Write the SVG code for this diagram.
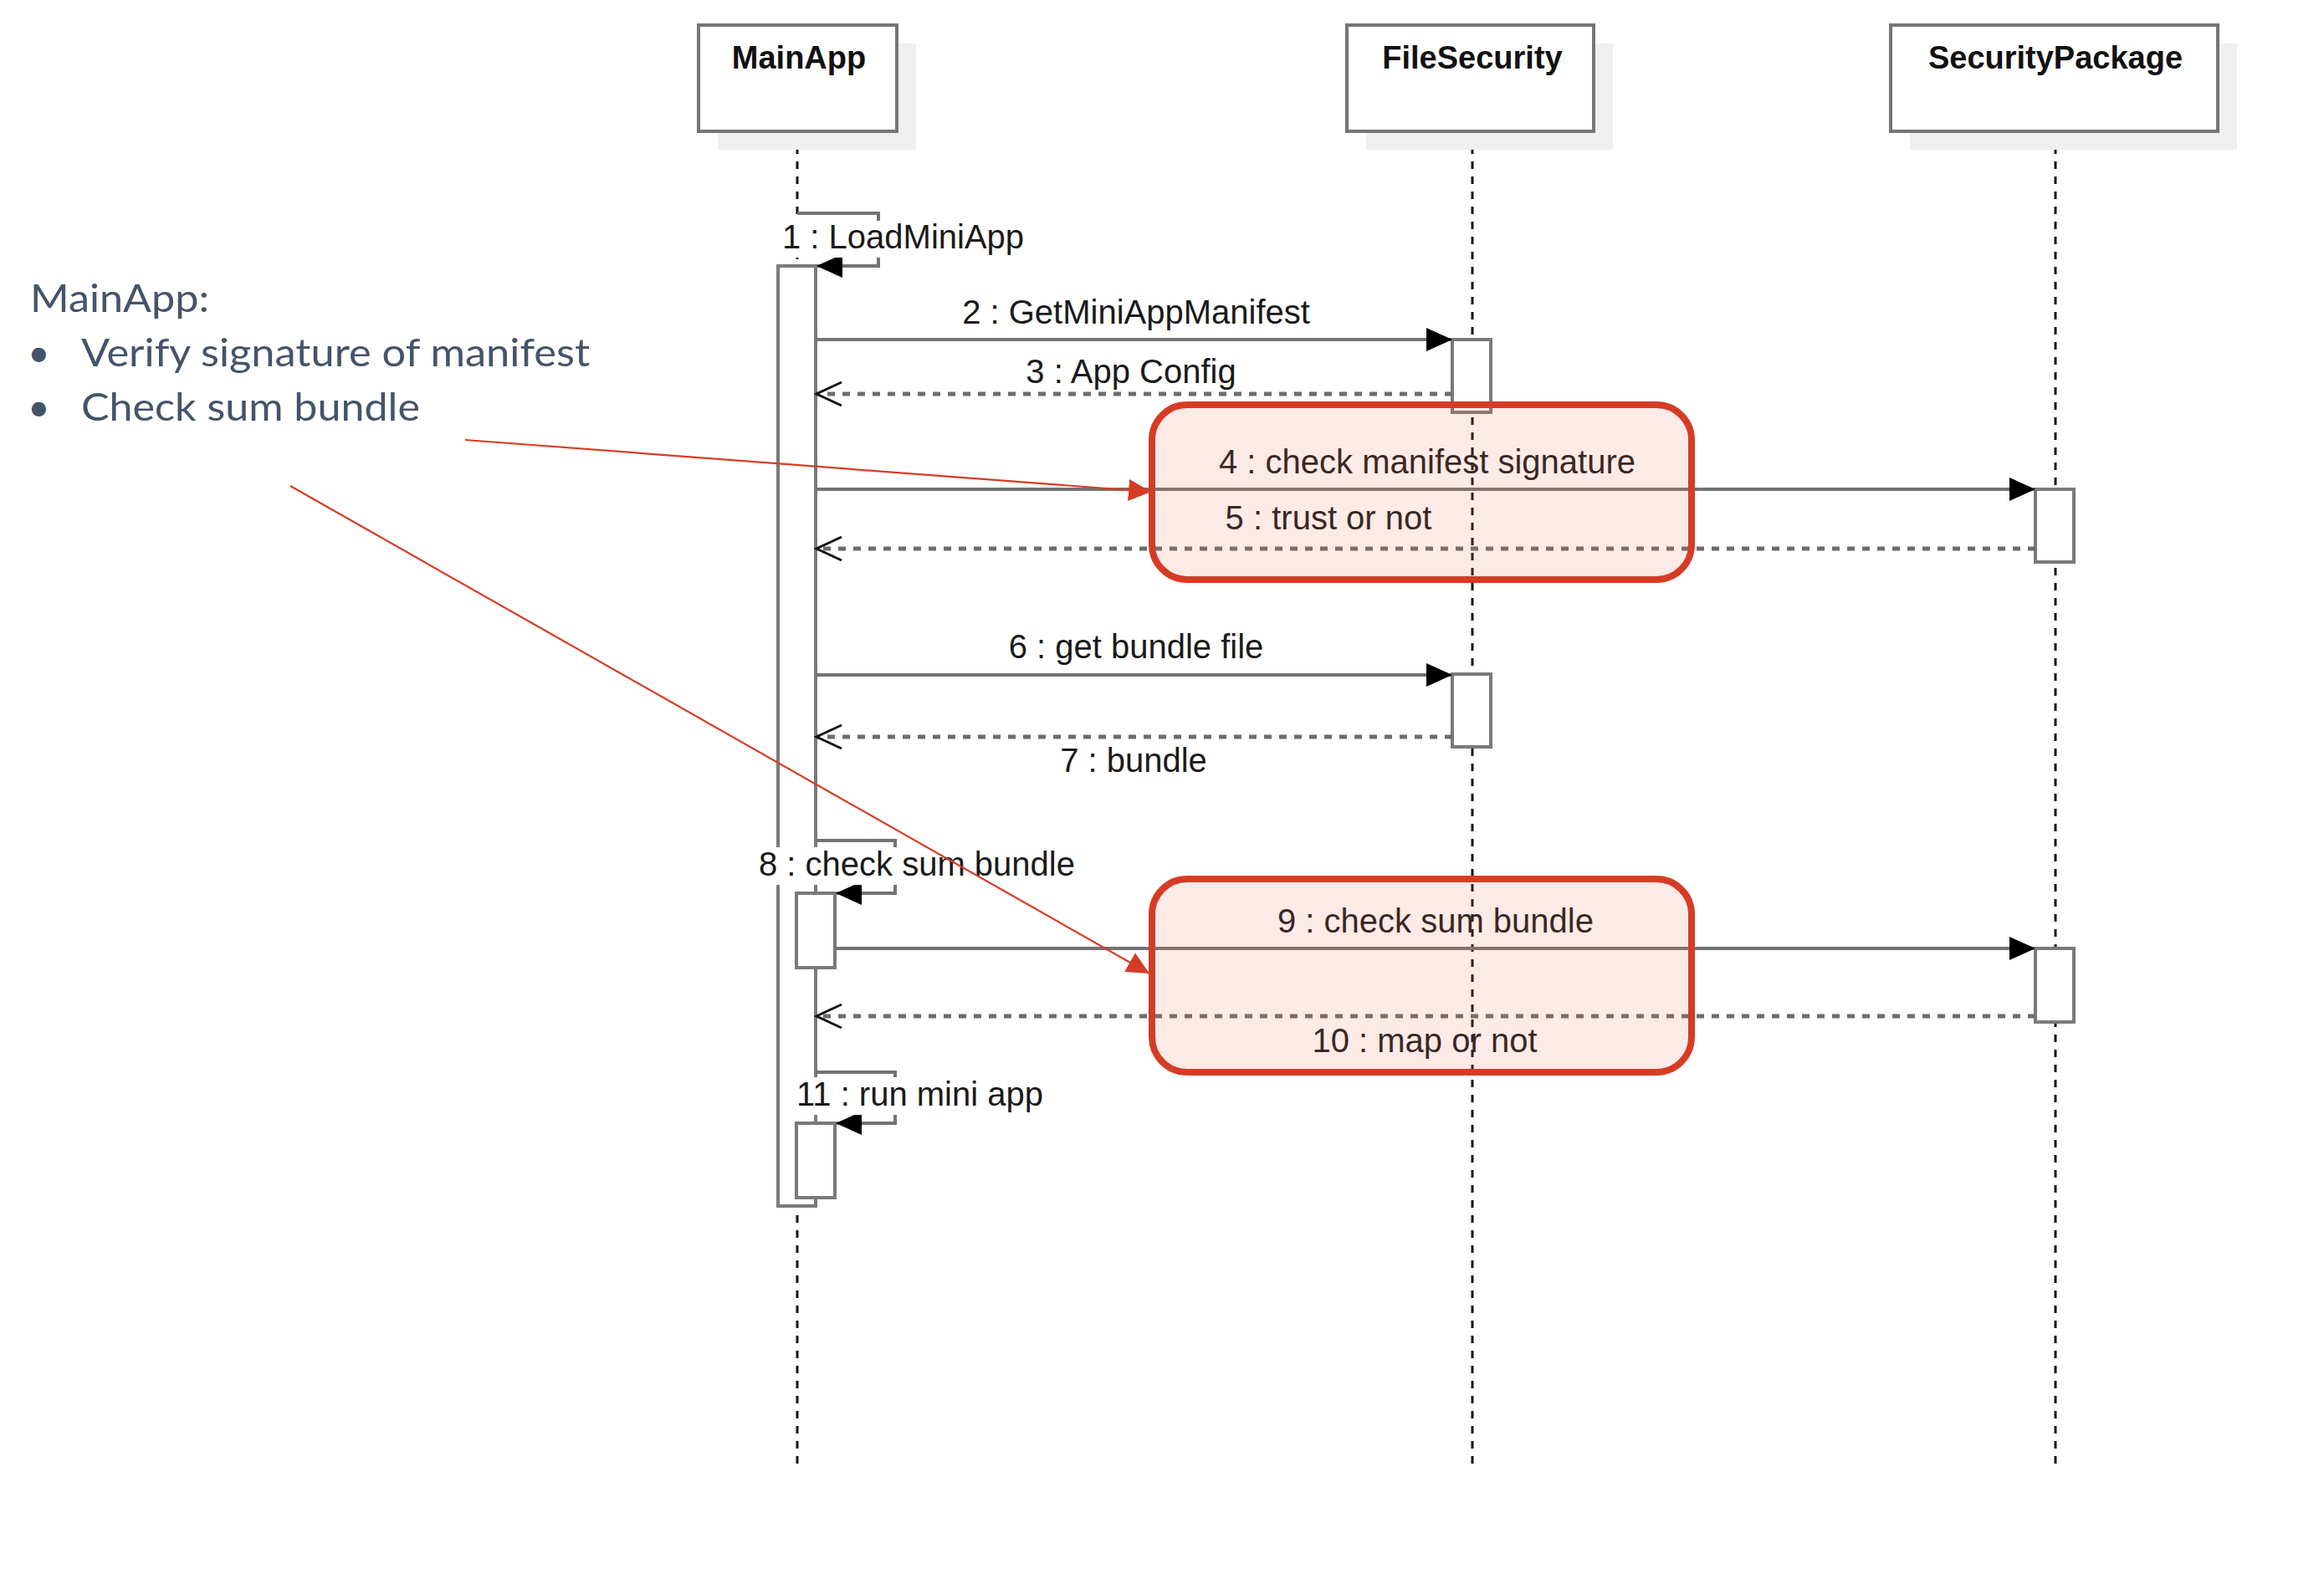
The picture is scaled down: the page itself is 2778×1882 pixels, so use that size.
<svg xmlns="http://www.w3.org/2000/svg" width="2778" height="1882" viewBox="0 0 2778 1882">
  <style>
    .lifeline { stroke: #111; stroke-width: 3; stroke-dasharray: 9 9; fill: none; }
    .shadow { fill: #efefef; }
    .head { fill: #fff; stroke: #767676; stroke-width: 4; }
    .headtxt { font-family: "Liberation Sans", Arial, sans-serif; font-weight: bold; font-size: 38px; fill: #111; text-anchor: middle; }
    .bar { fill: #fff; stroke: #7a7a7a; stroke-width: 4; }
    .msg { fill: none; stroke: #737373; stroke-width: 4; }
    .ret { fill: none; stroke: #6c6c6c; stroke-width: 5; stroke-dasharray: 9 9; }
    .lbl { font-family: "Liberation Sans", Arial, sans-serif; font-size: 40px; fill: #1a1a1a; }
    .mid { text-anchor: middle; }
    .lblbg { fill: #fff; }
    .hl { fill: #e8705a; fill-opacity: 0.15; stroke: #d63c25; stroke-width: 8; }
    .note { font-family: Lato, "Open Sans", sans-serif; font-size: 46px; fill: #44546a; }
    .pointer { stroke: #d63c25; stroke-width: 2.2; fill: none; }
  </style>
  <defs>
    <marker id="solidHead" markerUnits="userSpaceOnUse" markerWidth="34" markerHeight="30" refX="31" refY="14" orient="auto">
      <path d="M0,0 L31,14 L0,28 Z" fill="#000"/>
    </marker>
    <marker id="openHead" markerUnits="userSpaceOnUse" markerWidth="34" markerHeight="34" refX="31" refY="16" orient="auto">
      <path d="M1,2 L31,16 L1,30" fill="none" stroke="#111" stroke-width="3" stroke-dasharray="none"/>
    </marker>
    <marker id="redHead" markerUnits="userSpaceOnUse" markerWidth="30" markerHeight="28" refX="27" refY="13" orient="auto">
      <path d="M0,0 L27,13 L0,26 Z" fill="#d63c25"/>
    </marker>
  </defs>

  <rect width="2778" height="1882" fill="#fff"/>

  <!-- lifelines -->
  <g id="lifelines">
    <line class="lifeline" x1="953" y1="157" x2="953" y2="1754"/>
    <line class="lifeline" x1="1760" y1="157" x2="1760" y2="1754"/>
    <line class="lifeline" x1="2457" y1="157" x2="2457" y2="1754"/>
  </g>

  <!-- participants -->
  <g id="mainapp">
    <rect class="shadow" x="858" y="52" width="237" height="127"/>
    <rect class="head" x="835" y="30" width="237" height="127"/>
    <text class="headtxt" x="955" y="82">MainApp</text>
  </g>
  <g id="filesecurity">
    <rect class="shadow" x="1633" y="52" width="295" height="127"/>
    <rect class="head" x="1610" y="30" width="295" height="127"/>
    <text class="headtxt" x="1760" y="82">FileSecurity</text>
  </g>
  <g id="securitypackage">
    <rect class="shadow" x="2283" y="52" width="391" height="127"/>
    <rect class="head" x="2260" y="30" width="391" height="127"/>
    <text class="headtxt" x="2457" y="82">SecurityPackage</text>
  </g>

  <!-- activation bars -->
  <g id="activations">
    <rect id="mainapp-bar" class="bar" x="930" y="318" width="45" height="1124"/>
    <rect id="filesecurity-bar1" class="bar" x="1736" y="406" width="46" height="87"/>
    <rect id="filesecurity-bar2" class="bar" x="1736" y="806" width="46" height="87"/>
    <rect id="securitypackage-bar1" class="bar" x="2433" y="585" width="46" height="87"/>
    <rect id="securitypackage-bar2" class="bar" x="2433" y="1134" width="46" height="88"/>
    <rect id="mainapp-bar8" class="bar" x="952" y="1068" width="46" height="89"/>
    <rect id="mainapp-bar11" class="bar" x="952" y="1343" width="46" height="89"/>
  </g>

  <!-- messages -->
  <g id="connectors">
    <path class="msg" d="M953,255 H1050 V318 H976" marker-end="url(#solidHead)"/>
    <line class="msg" x1="975" y1="406" x2="1736" y2="406" marker-end="url(#solidHead)"/>
    <line class="ret" x1="1736" y1="471" x2="976" y2="471" marker-end="url(#openHead)"/>
    <line class="msg" x1="975" y1="585" x2="2433" y2="585" marker-end="url(#solidHead)"/>
    <line class="ret" x1="2433" y1="656" x2="976" y2="656" marker-end="url(#openHead)"/>
    <line class="msg" x1="975" y1="807" x2="1736" y2="807" marker-end="url(#solidHead)"/>
    <line class="ret" x1="1736" y1="881" x2="976" y2="881" marker-end="url(#openHead)"/>
    <path class="msg" d="M975,1005 H1070 V1068 H999" marker-end="url(#solidHead)"/>
    <line class="msg" x1="998" y1="1134" x2="2433" y2="1134" marker-end="url(#solidHead)"/>
    <line class="ret" x1="2433" y1="1215" x2="976" y2="1215" marker-end="url(#openHead)"/>
    <path class="msg" d="M975,1282 H1070 V1343 H999" marker-end="url(#solidHead)"/>
  </g>

  <!-- message labels -->
  <g id="labels">
    <rect class="lblbg" x="932" y="264" width="298" height="44"/>
    <text class="lbl" x="935" y="297">1 : LoadMiniApp</text>
    <text class="lbl mid" x="1358" y="387">2 : GetMiniAppManifest</text>
    <text class="lbl mid" x="1352" y="458">3 : App Config</text>
    <text class="lbl mid" x="1706" y="566">4 : check manifest signature</text>
    <text class="lbl mid" x="1588" y="633">5 : trust or not</text>
    <text class="lbl mid" x="1358" y="787">6 : get bundle file</text>
    <text class="lbl mid" x="1355" y="923">7 : bundle</text>
    <rect class="lblbg" x="904" y="1013" width="388" height="45"/>
    <text class="lbl" x="907" y="1047">8 : check sum bundle</text>
    <text class="lbl mid" x="1716" y="1115">9 : check sum bundle</text>
    <text class="lbl mid" x="1703" y="1258">10 : map or not</text>
    <rect class="lblbg" x="948" y="1288" width="306" height="45"/>
    <text class="lbl" x="952" y="1322">11 : run mini app</text>
  </g>

  <!-- highlighted message pairs -->
  <g id="highlight-signature">
    <rect class="hl" x="1377" y="484" width="645" height="209" rx="42" ry="42"/>
  </g>
  <g id="highlight-checksum">
    <rect class="hl" x="1377" y="1051" width="645" height="231" rx="42" ry="42"/>
  </g>

  <!-- side note -->
  <g id="note">
    <text class="note" x="36" y="373" textLength="214" lengthAdjust="spacingAndGlyphs">MainApp:</text>
    <text class="note" x="33" y="438">•</text>
    <text class="note" x="97" y="438" textLength="608" lengthAdjust="spacingAndGlyphs">Verify signature of manifest</text>
    <text class="note" x="33" y="503">•</text>
    <text class="note" x="97" y="503" textLength="405" lengthAdjust="spacingAndGlyphs">Check sum bundle</text>
  </g>

  <!-- note pointers -->
  <g id="note-pointers">
    <line class="pointer" x1="556" y1="526" x2="1376" y2="588" marker-end="url(#redHead)"/>
    <line class="pointer" x1="347" y1="581" x2="1374" y2="1164" marker-end="url(#redHead)"/>
  </g>
</svg>
